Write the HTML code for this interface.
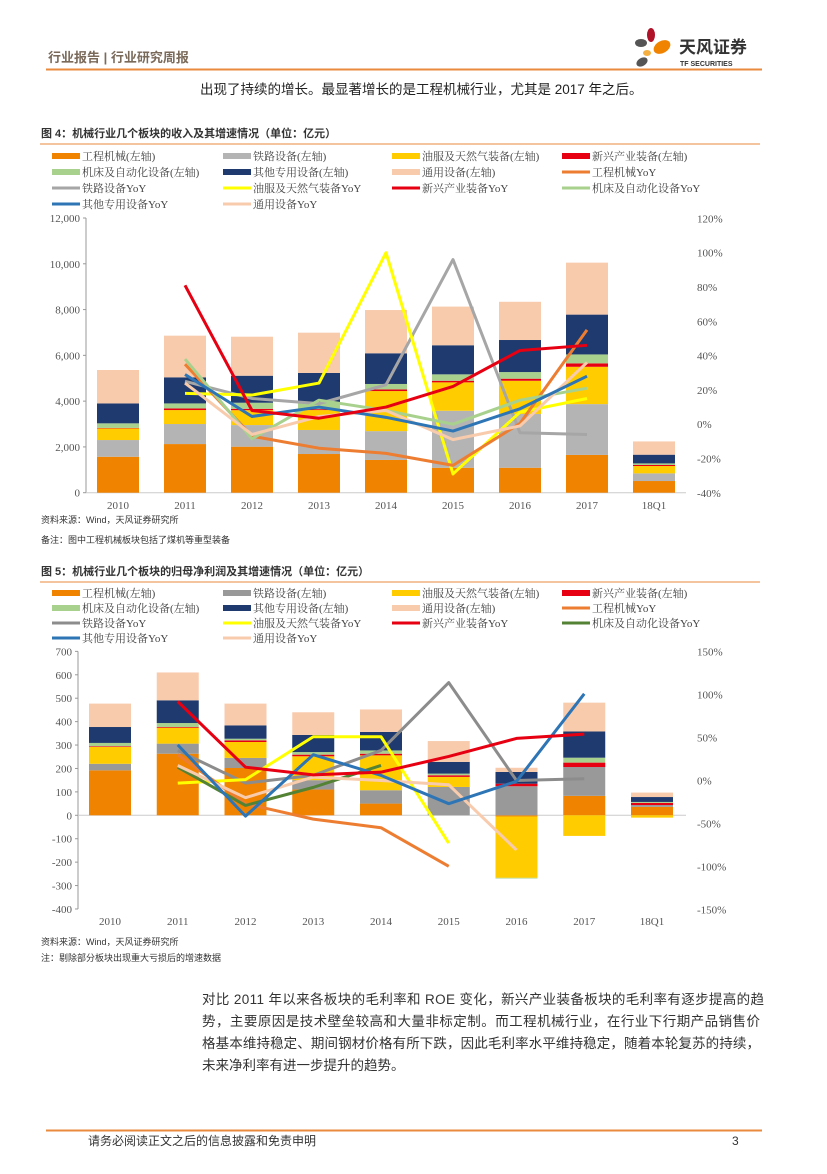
<!DOCTYPE html>
<html><head><meta charset="utf-8">
<style>
html,body{margin:0;padding:0;background:#fff;}
body{width:827px;height:1169px;position:relative;overflow:hidden;font-family:"Liberation Sans","Noto Sans CJK SC",sans-serif;}
svg text{font-family:"Liberation Serif","Noto Serif CJK SC",serif;}
.sans{font-family:"Liberation Sans","Noto Sans CJK SC",sans-serif !important;}
</style></head><body>
<svg id="page" width="827" height="1169" viewBox="0 0 827 1169">
 <g>
  <text class="sans" x="48" y="62" font-size="13" font-weight="bold" fill="#7a6a5a">行业报告 | 行业研究周报</text>
  <line x1="46" y1="69.5" x2="762" y2="69.5" stroke="#E98A3C" stroke-width="2"/>
  <g>
   <ellipse cx="651" cy="35" rx="4" ry="7" fill="#B0122A"/>
   <ellipse cx="641" cy="43" rx="6" ry="4" fill="#555"/>
   <ellipse cx="662" cy="47" rx="9" ry="6" fill="#F08300" transform="rotate(-30 662 47)"/>
   <ellipse cx="647" cy="53" rx="4" ry="3" fill="#F5B041"/>
   <ellipse cx="642" cy="62" rx="6" ry="4" fill="#555" transform="rotate(-30 642 62)"/>
   <text class="sans" x="679" y="53" font-size="17" font-weight="bold" fill="#333">天风证券</text>
   <text class="sans" x="680" y="66" font-size="7" font-weight="bold" fill="#333">TF SECURITIES</text>
  </g>
 </g>
 <text class="sans" x="200" y="94" font-size="13.5" fill="#222">出现了持续的增长。最显著增长的是工程机械行业，尤其是 2017 年之后。</text>

 <text class="sans" x="41" y="137" font-size="11" font-weight="bold" fill="#333">图 4：机械行业几个板块的收入及其增速情况（单位：亿元）</text>
 <line x1="40" y1="144" x2="760" y2="144" stroke="#E98A3C" stroke-width="1"/>
 <g id="chart1"></g>
 <text class="sans" x="41" y="523" font-size="9" fill="#333">资料来源：Wind，天风证券研究所</text>
 <text class="sans" x="41" y="543" font-size="9" fill="#333">备注：图中工程机械板块包括了煤机等重型装备</text>

 <text class="sans" x="41" y="575" font-size="11" font-weight="bold" fill="#333">图 5：机械行业几个板块的归母净利润及其增速情况（单位：亿元）</text>
 <line x1="40" y1="582" x2="760" y2="582" stroke="#E98A3C" stroke-width="1"/>
 <g id="chart2"></g>
 <text class="sans" x="41" y="945" font-size="9" fill="#333">资料来源：Wind，天风证券研究所</text>
 <text class="sans" x="41" y="961" font-size="9" fill="#333">注：剔除部分板块出现重大亏损后的增速数据</text>

 <g class="sans" font-size="13.5" fill="#333">
  <text class="sans" x="202" y="1004" textLength="562" lengthAdjust="spacing">对比 2011 年以来各板块的毛利率和 ROE 变化，新兴产业装备板块的毛利率有逐步提高的趋</text>
  <text class="sans" x="202" y="1026" textLength="558" lengthAdjust="spacing">势，主要原因是技术壁垒较高和大量非标定制。而工程机械行业，在行业下行期产品销售价</text>
  <text class="sans" x="202" y="1048" textLength="558" lengthAdjust="spacing">格基本维持稳定、期间钢材价格有所下跌，因此毛利率水平维持稳定，随着本轮复苏的持续，</text>
  <text class="sans" x="202" y="1070">未来净利率有进一步提升的趋势。</text>
 </g>
 <line x1="46" y1="1130.5" x2="762" y2="1130.5" stroke="#E98A3C" stroke-width="2"/>
 <text class="sans" x="88" y="1145" font-size="12" fill="#333">请务必阅读正文之后的信息披露和免责申明</text>
 <text class="sans" x="732" y="1145" font-size="12" fill="#333">3</text>
</svg>
<script>
var NS='http://www.w3.org/2000/svg';
var categories=['2010','2011','2012','2013','2014','2015','2016','2017','18Q1'];
var barSeriesNames=['工程机械(左轴)','铁路设备(左轴)','油服及天然气装备(左轴)','新兴产业装备(左轴)','机床及自动化设备(左轴)','其他专用设备(左轴)','通用设备(左轴)'];
// chart 1 revenue segments (亿元)
var rev_gcjx=[1570,2125,2010,1690,1430,1090,1090,1650,510];
var rev_tl=[730,875,945,1050,1260,2490,2350,2220,335];
var rev_yf=[510,610,650,870,1750,1240,1450,1630,320];
var rev_xx=[20,70,60,40,70,70,90,150,45];
var rev_jc=[200,220,265,300,240,280,290,390,70];
var rev_qt=[870,1140,1180,1280,1340,1270,1400,1740,380];
var rev_ty=[1460,1820,1705,1760,1890,1690,1670,2270,580];
// chart 1 YoY (%)
var revYoy_gcjx=[null,35,-7,-14,-17,-24,0.5,55,null];
var revYoy_tl=[null,25,15,12,23,96,-5,-6,null];
var revYoy_yf=[null,18,17,24,100,-29,7,15,null];
var revYoy_xx=[null,81,8,3.5,10,22,43,46,null];
var revYoy_jc=[null,38,-8.5,14,8,0,14,21,null];
var revYoy_qt=[null,29,4.5,10,4,-4,9,28,null];
var revYoy_ty=[null,24,-6,4.5,8,-9,-1,36,null];
var rev_leftTicks=['0','2,000','4,000','6,000','8,000','10,000','12,000'];
var rev_rightTicks=['-40%','-20%','0%','20%','40%','60%','80%','100%','120%'];
// chart 2 profit segments (亿元)
var pro_gcjx=[192,263,202,110,50,0,-5,83,36];
var pro_tl=[28,43,43,40,57,121,124,123,8];
var pro_yf=[72,68,68,102,149,43,-262,-88,-10];
var pro_xx=[3,3,7,7,7,7,11,19,9];
var pro_jc=[14,17,7,11,14,7,-3,21,4];
var pro_qt=[68,97,57,73,79,50,50,112,21];
var pro_ty=[100,119,93,97,96,89,18,123,19];
// chart 2 YoY (%)
var proYoy_gcjx=[null,30,-27,-45,-55,-100,null,null,null];
var proYoy_tl=[null,35,-3,6,35,114,0,2,null];
var proYoy_yf=[null,-3,1,51,51,-73,null,null,null];
var proYoy_xx=[null,92,15.5,6.6,9.7,28,49,54,null];
var proYoy_jc=[null,15.5,-29,-8,17.5,null,null,null,null];
var proYoy_qt=[null,41.5,-41.5,30,6,-27,-1,101,null];
var proYoy_ty=[null,17.5,-20,4,0,-5,-81,null,null];
var pro_leftTicks=['-400','-300','-200','-100','0','100','200','300','400','500','600','700'];
var pro_rightTicks=['-150%','-100%','-50%','0%','50%','100%','150%'];

function mk(tag,attrs,parent){var e=document.createElementNS(NS,tag);for(var k in attrs)e.setAttribute(k,attrs[k]);parent.appendChild(e);return e;}

function drawChart(g,cfg){
  var xs=function(i){return cfg.x0+cfg.step*i;};
  var yL=function(v){return cfg.yZero-(v)*cfg.pxPerUnit;};
  var yR=function(p){return cfg.yPctZero-p*cfg.pxPerPct;};
  var ax=mk('line',{x1:cfg.axisX,y1:yL(cfg.lmin),x2:cfg.axisX,y2:yL(cfg.lmax),stroke:'#999','stroke-width':1},g);
  
  
  var base=mk('line',{x1:cfg.axisX,y1:yL(0),x2:cfg.plotRight,y2:yL(0),stroke:'#ccc','stroke-width':1},g);
  
  
  cfg.leftTicks.forEach(function(t){
    var v=parseFloat(t.replace(/,/g,''));
    var tl=mk('text',{x:cfg.axisX-6,y:yL(v)+4,'font-size':11,fill:'#555','text-anchor':'end'},g);tl.textContent=t;
    
    
    mk('line',{x1:cfg.axisX-3,y1:yL(v),x2:cfg.axisX,y2:yL(v),stroke:'#999'},g);
  });
  cfg.rightTicks.forEach(function(t){
    var p=parseFloat(t);
    var tr=mk('text',{x:cfg.rightX,y:yR(p)+4,'font-size':11,fill:'#555'},g);tr.textContent=t;
    
    
  });
  categories.forEach(function(c,i){
    var tc=mk('text',{x:xs(i),y:cfg.catY,'font-size':11,fill:'#555','text-anchor':'middle'},g);tc.textContent=c;
    
    
  });
  for(var i=0;i<categories.length;i++){
    var pos=0,neg=0;
    cfg.bars.forEach(function(s){
      var v=s.data[i];if(!v)return;
      var y0,y1;
      if(v>0){y0=pos;pos+=v;y1=pos;}else{y0=neg;neg+=v;y1=neg;}
      var top=Math.min(yL(y0),yL(y1)),h=Math.abs(yL(y1)-yL(y0));
      var r=mk('rect',{x:xs(i)-cfg.bw/2,y:top,width:cfg.bw,height:h,fill:s.color},g);
      
      
    });
  }
  cfg.lines.forEach(function(s){
    var d='',started=false;
    s.data.forEach(function(v,i){
      if(v===null||v===undefined){started=false;return;}
      d+=(started?'L':'M')+xs(i)+' '+yR(v)+' ';started=true;
    });
    var p=mk('path',{d:d,fill:'none',stroke:s.color,'stroke-width':3,'stroke-linejoin':'round'},g);
    
    
  });
  cfg.legend.forEach(function(L,k){
    var col=k%4,row=Math.floor(k/4);
    var lx=cfg.legX[col],ly=cfg.legY0+row*cfg.legDY;
    var sw=mk('rect',{x:lx,y:ly-(L.rect?3:1.5),width:28,height:L.rect?6:3,fill:L.color},g);
    
    
    var lt=mk('text',{x:lx+30,y:ly+4,'font-size':11,fill:'#444'},g);lt.textContent=L.name;
    
    
  });
}
var C={o:'#F08300',g:'#B4B4B4',gd:'#999999',y:'#FFCC00',r:'#E60012',lg:'#A9D18E',n:'#1F3A6E',p:'#F8CBAD',oy:'#ED7D31',yy:'#FFFF00',gy:'#A6A6A6',gy2:'#8C8C8C',bl:'#2E75B6',dg:'#548235'};

drawChart(document.getElementById('chart1'),{
  x0:118,step:67,bw:42,axisX:86,plotRight:686,rightX:697,catY:509,
  yZero:492.7,pxPerUnit:274.7/12000,lmin:0,lmax:12000,
  yPctZero:424.2,pxPerPct:34.3/20,
  leftTicks:rev_leftTicks,rightTicks:rev_rightTicks,
  bars:[{key:'gcjx',data:rev_gcjx,color:C.o},{key:'tl',data:rev_tl,color:C.g},{key:'yf',data:rev_yf,color:C.y},{key:'xx',data:rev_xx,color:C.r},{key:'jc',data:rev_jc,color:C.lg},{key:'qt',data:rev_qt,color:C.n},{key:'ty',data:rev_ty,color:C.p}],
  lines:[{key:'tl',data:revYoy_tl,color:C.gy},{key:'yf',data:revYoy_yf,color:C.yy},{key:'gcjx',data:revYoy_gcjx,color:C.oy},{key:'jc',data:revYoy_jc,color:'#A9D18E'},{key:'ty',data:revYoy_ty,color:C.p},{key:'qt',data:revYoy_qt,color:C.bl},{key:'xx',data:revYoy_xx,color:C.r}],
  legX:[52,223,392,562],legY0:156,legDY:16,
  legend:[{name:barSeriesNames[0],color:C.o,rect:1},{name:barSeriesNames[1],color:C.g,rect:1},{name:barSeriesNames[2],color:C.y,rect:1},{name:barSeriesNames[3],color:C.r,rect:1},
   {name:barSeriesNames[4],color:C.lg,rect:1},{name:barSeriesNames[5],color:C.n,rect:1},{name:barSeriesNames[6],color:C.p,rect:1},{name:'工程机械YoY',color:C.oy},
   {name:'铁路设备YoY',color:C.gy},{name:'油服及天然气装备YoY',color:C.yy},{name:'新兴产业装备YoY',color:C.r},{name:'机床及自动化设备YoY',color:'#A9D18E'},
   {name:'其他专用设备YoY',color:C.bl},{name:'通用设备YoY',color:C.p}]
});
drawChart(document.getElementById('chart2'),{
  x0:110,step:67.75,bw:42,axisX:78,plotRight:686,rightX:697,catY:925,
  yZero:815.3,pxPerUnit:257.6/1100,lmin:-400,lmax:700,
  yPctZero:780.5,pxPerPct:42.93/50,
  leftTicks:pro_leftTicks,rightTicks:pro_rightTicks,
  bars:[{key:'gcjx',data:pro_gcjx,color:C.o},{key:'tl',data:pro_tl,color:C.gd},{key:'yf',data:pro_yf,color:C.y},{key:'xx',data:pro_xx,color:C.r},{key:'jc',data:pro_jc,color:C.lg},{key:'qt',data:pro_qt,color:C.n},{key:'ty',data:pro_ty,color:C.p}],
  lines:[{key:'tl',data:proYoy_tl,color:C.gy2},{key:'yf',data:proYoy_yf,color:C.yy},{key:'gcjx',data:proYoy_gcjx,color:C.oy},{key:'jc',data:proYoy_jc,color:C.dg},{key:'ty',data:proYoy_ty,color:C.p},{key:'qt',data:proYoy_qt,color:C.bl},{key:'xx',data:proYoy_xx,color:C.r}],
  legX:[52,223,392,562],legY0:593,legDY:15,
  legend:[{name:barSeriesNames[0],color:C.o,rect:1},{name:barSeriesNames[1],color:C.gd,rect:1},{name:barSeriesNames[2],color:C.y,rect:1},{name:barSeriesNames[3],color:C.r,rect:1},
   {name:barSeriesNames[4],color:C.lg,rect:1},{name:barSeriesNames[5],color:C.n,rect:1},{name:barSeriesNames[6],color:C.p,rect:1},{name:'工程机械YoY',color:C.oy},
   {name:'铁路设备YoY',color:C.gy2},{name:'油服及天然气装备YoY',color:C.yy},{name:'新兴产业装备YoY',color:C.r},{name:'机床及自动化设备YoY',color:C.dg},
   {name:'其他专用设备YoY',color:C.bl},{name:'通用设备YoY',color:C.p}]
});
</script>
</body></html>
